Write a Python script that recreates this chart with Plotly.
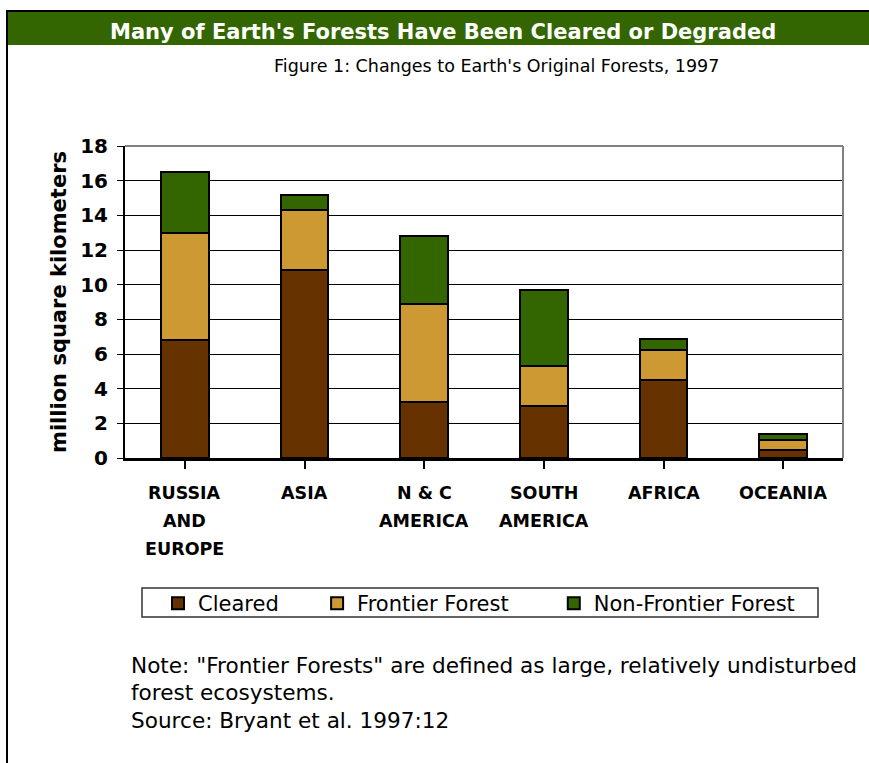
import plotly.graph_objects as go

# Regions and forest area (million km^2), stacked bottom to top
regions = ["RUSSIA<br>AND<br>EUROPE", "ASIA", "N & C<br>AMERICA", "SOUTH<br>AMERICA", "AFRICA", "OCEANIA"]
cleared = [6.8, 10.85, 3.25, 3.0, 4.5, 0.45]
frontier = [6.2, 3.45, 5.65, 2.3, 1.75, 0.6]
non_frontier = [3.5, 0.85, 3.9, 4.4, 0.6, 0.35]

series_names = ["Cleared", "Frontier Forest", "Non-Frontier Forest"]
series_colors = ["#663300", "#CC9933", "#336600"]
y_ticks = [0, 2, 4, 6, 8, 10, 12, 14, 16, 18]

title_text = "Many of Earth's Forests Have Been Cleared or Degraded"
subtitle_text = "Figure 1: Changes to Earth's Original Forests, 1997"
note_lines = [
    'Note: "Frontier Forests" are defined as large, relatively undisturbed',
    "forest ecosystems.",
    "Source: Bryant et al. 1997:12",
]

W, H = 869, 763
L, R, T, B = 125, 843, 146, 458  # plot area in pixels


def px(x):
    return (x - L) / (R - L)


def py(y):
    return (B - y) / (B - T)


SANS = "DejaVu Sans, Verdana, sans-serif"
NBSP = "\u00a0"
legend_pad = [5, 6, 0]  # spacing after each legend entry

fig = go.Figure()
xs = list(range(len(regions)))
for name, vals, col, pad in zip(series_names, [cleared, frontier, non_frontier], series_colors, legend_pad):
    fig.add_trace(go.Bar(
        x=xs, y=vals, name=name + NBSP * pad, width=0.4,
        marker=dict(color=col, line=dict(color="black", width=2)),
    ))

shapes = [
    # title band
    dict(type="rect", xref="paper", yref="paper", x0=px(8), x1=px(869), y0=py(12), y1=py(45),
         fillcolor="#336600", line=dict(width=0), layer="above"),
    # outer frame lines
    dict(type="line", xref="paper", yref="paper", x0=px(6), x1=px(869), y0=py(11), y1=py(11),
         line=dict(color="black", width=2)),
    dict(type="line", xref="paper", yref="paper", x0=px(7), x1=px(7), y0=py(10), y1=py(763),
         line=dict(color="black", width=2)),
    # grey plot border (top and right)
    dict(type="line", xref="paper", yref="paper", x0=0, x1=1, y0=1, y1=1,
         line=dict(color="#808080", width=2), layer="above"),
    dict(type="line", xref="paper", yref="paper", x0=1, x1=1, y0=0, y1=1,
         line=dict(color="#808080", width=2), layer="above"),
    # legend frame
    dict(type="rect", xref="paper", yref="paper", x0=px(142), x1=px(818), y0=py(588), y1=py(617),
         line=dict(color="#333333", width=1.5), fillcolor="rgba(0,0,0,0)", layer="below"),
]

annotations = [
    dict(text="<b>" + title_text + "</b>", xref="paper", yref="paper", x=px(443), y=py(32),
         showarrow=False, font=dict(family=SANS, size=21, color="white"), xanchor="center", yanchor="middle"),
    dict(text=subtitle_text, xref="paper", yref="paper", x=px(496), y=py(66),
         showarrow=False, font=dict(family=SANS, size=17.5, color="black"), xanchor="center", yanchor="middle"),
]
for i, line in enumerate(note_lines):
    annotations.append(dict(text=line, xref="paper", yref="paper", x=px(129), y=py(665 + 27.5 * i),
                            showarrow=False, font=dict(family=SANS, size=21.6, color="black"),
                            xanchor="left", yanchor="middle"))

# category labels, one line at a time for wider line spacing
for i, lab in enumerate(regions):
    for j, part in enumerate(lab.split("<br>")):
        annotations.append(dict(text="<b>" + part + "</b>", x=xs[i], xref="x", yref="paper",
                                y=py(493 + 28 * j), showarrow=False,
                                font=dict(family=SANS, size=17.5, color="black"),
                                xanchor="center", yanchor="middle"))

fig.update_layout(
    width=W, height=H,
    margin=dict(l=L, r=W - R, t=T, b=H - B, autoexpand=False),
    paper_bgcolor="white", plot_bgcolor="white",
    barmode="stack",
    showlegend=True,
    legend=dict(orientation="h", x=px(158), y=py(583), xanchor="left", yanchor="top",
                borderwidth=0, bgcolor="rgba(0,0,0,0)",
                font=dict(family=SANS, size=21, color="black"), traceorder="normal"),
    shapes=shapes, annotations=annotations,
    xaxis=dict(range=[-0.5, len(regions) - 0.5], tickvals=xs, showticklabels=False,
               ticks="outside", ticklen=8, tickwidth=2, tickcolor="black", tickson="boundaries",
               showline=True, linecolor="black", linewidth=3, showgrid=False, zeroline=False,
               fixedrange=True),
    yaxis=dict(range=[0, 18], tickvals=y_ticks, ticks="outside", ticklen=6, tickwidth=1,
               tickcolor="black", showline=True, linecolor="black", linewidth=2,
               showgrid=True, gridcolor="black", gridwidth=1, zeroline=False,
               tickfont=dict(family=SANS, size=20, color="black", weight="bold"),
               title=dict(text="<b>million square kilometers</b>", standoff=8,
                          font=dict(family=SANS, size=21, color="black")),
               ticklabelstandoff=5),
)

fig.write_html("out.html")
